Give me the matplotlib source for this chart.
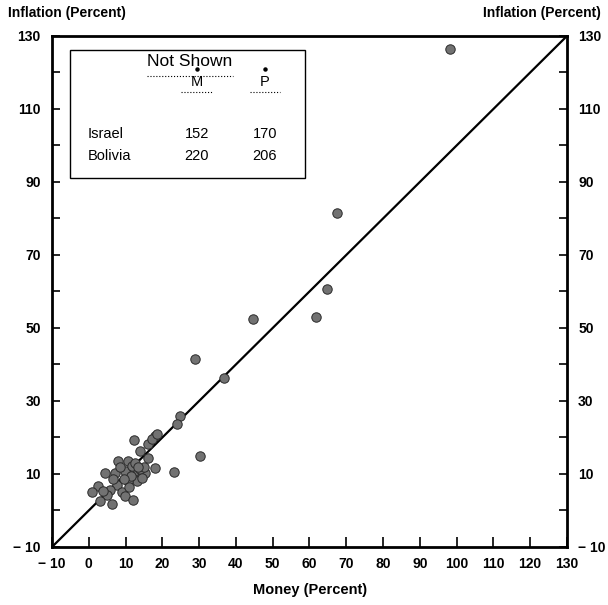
"""
Money growth vs. inflation scatter, redrawn with matplotlib
"""
import matplotlib
matplotlib.use("Agg")
from matplotlib import pyplot as plt
from matplotlib.patches import Rectangle
from matplotlib.ticker import MultipleLocator

plt.rcParams['font.family'] = ['Liberation Sans', 'DejaVu Sans']

# money growth (percent) and inflation (percent) per country
money = [98.2, 67.4, 64.7, 61.7, 44.6, 28.9, 36.7, 30.2, 23.2, 24.8, 23.9,
         18.0, 12.4, 16.0, 17.3, 18.5, 13.9, 8.0, 10.7, 18.0, 4.4, 7.1,
         9.8, 12.6, 13.5, 14.4, 15.3, 11.7, 13.0, 10.7, 2.6, 7.6, 8.9, 0.8,
         5.8, 4.9, 9.8, 12.1, 3.0, 6.2, 14.0, 11.5, 15.0, 12.5, 16.0, 8.5,
         6.5, 11.0, 9.5, 3.9, 14.5, 13.5]
inflation = [126.4, 81.4, 60.8, 53.1, 52.5, 41.5, 36.3, 14.9, 10.5, 25.9, 23.6,
             20.4, 19.3, 18.3, 19.6, 20.9, 16.3, 13.5, 13.5, 11.7, 10.3, 10.3,
             10.8, 10.8, 10.8, 9.4, 10.3, 12.1, 8.0, 8.0, 6.6, 7.0, 5.2, 5.2,
             5.7, 4.3, 3.9, 3.0, 2.5, 1.9, 11.5, 9.5, 12.0, 13.0, 14.5, 12.0,
             8.5, 6.5, 8.5, 5.3, 8.8, 11.8]

# table of countries left off the chart
not_shown = ['Israel', 'Bolivia']
money_not_shown = [152, 220]
prices_not_shown = [170, 206]

lims = [-10, 130]
x_ticks = list(range(-10, 131, 10))
y_labels = list(range(-10, 131, 20))


def fmt(v):
    return '\u2212 10' if v < 0 else str(v)


fig = plt.figure(figsize=(6.08, 6.05), dpi=100)
ax = fig.add_axes([0.0855, 0.0959, 0.847, 0.8446])
ax.set_xlim(lims)
ax.set_ylim(lims)

# 45 degree line
ax.plot(lims, lims, color='black', linewidth=1.6, zorder=2)
ax.scatter(money, inflation, s=46, facecolor='#727272', edgecolor='#2a2a2a',
           linewidth=0.7, zorder=3)

for side in ax.spines.values():
    side.set_linewidth(2.0)

ax.set_xticks(x_ticks)
ax.set_xticklabels([fmt(v) for v in x_ticks])
ax.set_yticks(y_labels)
ax.set_yticklabels([fmt(v) for v in y_labels])
ax.yaxis.set_minor_locator(MultipleLocator(10))
ax.tick_params(axis='x', direction='in', length=7, width=1.2, pad=7,
               labelsize=10, top=False)
ax.tick_params(axis='y', which='both', direction='in', length=6, width=1.2,
               left=True, right=True, labelleft=True, labelright=True,
               labelsize=10, pad=8)
for lab in ax.get_xticklabels() + ax.get_yticklabels():
    lab.set_fontweight('bold')
for t in ax.yaxis.get_major_ticks():
    t.label2.set_fontweight('bold')

# axis titles
fig.text(0.013, 0.978, 'Inflation (Percent)', fontsize=10, fontweight='bold',
         ha='left', va='center')
fig.text(0.988, 0.978, 'Inflation (Percent)', fontsize=10, fontweight='bold',
         ha='right', va='center')
fig.text(0.51, 0.025, 'Money (Percent)', fontsize=10.5, fontweight='bold',
         ha='center', va='center')

# inset table
ax.add_patch(Rectangle((-5.1, 91.0), 63.9, 35.2, fill=False, edgecolor='black',
                       linewidth=1.0, zorder=4))
ax.text(27.3, 122.9, 'Not Shown', fontsize=12.5, ha='center', va='center')
ax.plot([15.8, 39.2], [119.0, 119.0], color='black', linewidth=0.8, ls=':')
for xc, head in [(29.4, 'M'), (47.9, 'P')]:
    ax.text(xc, 117.3, head, fontsize=10.5, ha='center', va='center')
    ax.plot([xc], [120.9], marker='o', color='black', markersize=2.2)
    ax.plot([xc - 4.2, xc + 4.2], [114.6, 114.6], color='black',
            linewidth=0.8, ls=':')
for i, name in enumerate(not_shown):
    yy = 103.1 - 6.1 * i
    ax.text(-0.2, yy, name, fontsize=10.5, ha='left', va='center')
    ax.text(29.4, yy, str(money_not_shown[i]), fontsize=10.5, ha='center',
            va='center')
    ax.text(47.9, yy, str(prices_not_shown[i]), fontsize=10.5, ha='center',
            va='center')

fig.savefig('out.png', dpi=100)
